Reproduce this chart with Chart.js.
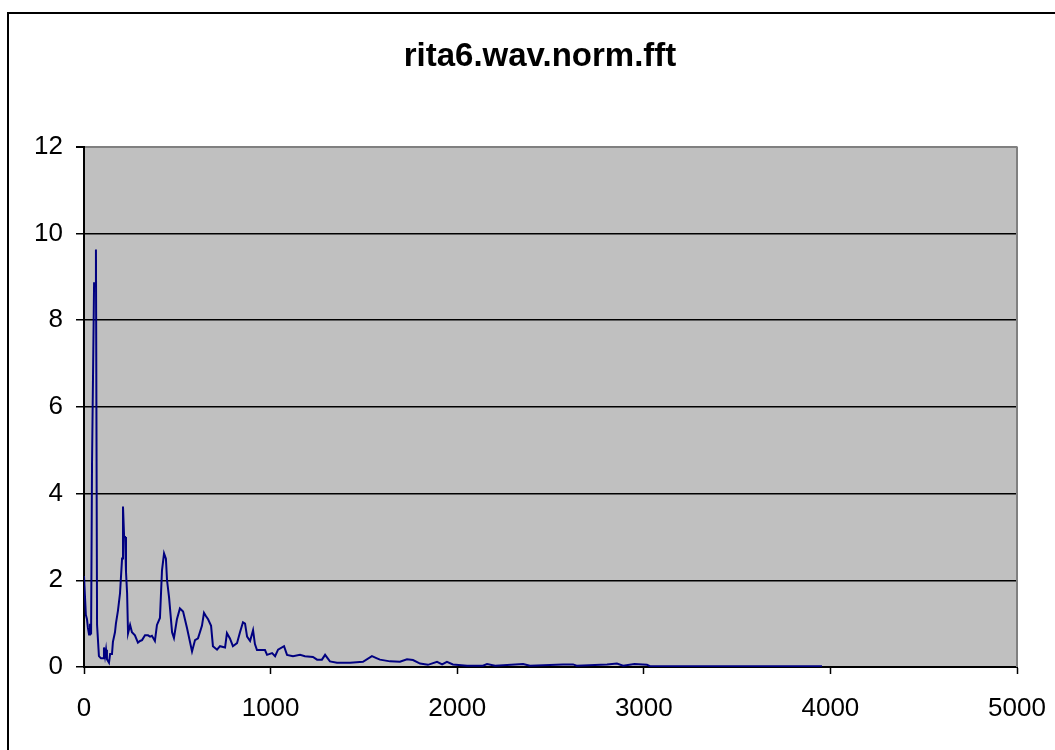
<!DOCTYPE html>
<html>
<head>
<meta charset="utf-8">
<title>rita6.wav.norm.fft</title>
<script src="https://cdn.jsdelivr.net/npm/chart.js"></script>
<style>
  html, body { margin: 0; padding: 0; width: 1055px; height: 750px; overflow: hidden; background: #fff; }
  #frame { position: absolute; left: 7px; top: 12px; width: 1100px; height: 800px; border: 2px solid #000; }
  #container { position: absolute; left: 0; top: 0; width: 1055px; height: 750px; }
</style>
</head>
<body>
<div id="frame"></div>
<div id="container"><canvas id="fftChart"></canvas></div>
<script>
const chartTitle = 'rita6.wav.norm.fft';

// frequency (x) and magnitude (y)
const freq = [0, 5, 10, 16, 21, 27, 32, 38, 43, 48, 54, 59, 64, 70, 75, 80, 91, 102, 107, 113,
  118, 123, 134, 140, 150, 155, 166, 171, 182, 193, 204, 209, 215, 220, 225, 231, 236, 247, 257, 273,
  289, 300, 311, 327, 343, 354, 364, 380, 391, 407, 418, 429, 439, 445, 456, 472, 482, 498, 514, 531,
  552, 579, 595, 611, 632, 643, 654, 665, 681, 691, 713, 729, 756, 766, 782, 798, 820, 836, 852, 863,
  874, 890, 906, 916, 927, 970, 981, 1008, 1024, 1040, 1072, 1088, 1120, 1158, 1184, 1227, 1249, 1275, 1292, 1318,
  1356, 1426, 1495, 1543, 1570, 1586, 1640, 1693, 1731, 1763, 1801, 1843, 1892, 1919, 1945, 1977, 2053, 2138, 2160, 2203,
  2353, 2390, 2567, 2621, 2640, 2803, 2856, 2889, 2950, 3017, 3033, 3500, 3955];
const mag = [2.1, 2.1, 1.2, 1.1, 0.9, 0.75, 1.0, 0.75, 4.7, 4.7, 8.85, 8.85, 9.63, 0.97, 0.97, 0.25, 0.2, 0.2, 0.45, 0.25,
  0.4, 0.18, 0.1, 0.3, 0.3, 0.58, 0.8, 1.0, 1.3, 1.7, 2.5, 3.7, 3.0, 3.0, 2.2, 1.7, 0.78, 0.97, 0.8, 0.73,
  0.56, 0.6, 0.62, 0.73, 0.73, 0.7, 0.72, 0.6, 0.97, 1.13, 2.23, 2.62, 2.5, 2.0, 1.6, 0.8, 0.67, 1.1, 1.35, 1.28,
  0.9, 0.36, 0.62, 0.66, 0.95, 1.25, 1.17, 1.1, 0.95, 0.48, 0.4, 0.48, 0.45, 0.78, 0.66, 0.48, 0.55, 0.8, 1.03, 1.0,
  0.7, 0.6, 0.85, 0.53, 0.39, 0.39, 0.28, 0.32, 0.25, 0.4, 0.48, 0.28, 0.25, 0.28, 0.25, 0.23, 0.17, 0.17, 0.28, 0.13,
  0.1, 0.1, 0.12, 0.25, 0.2, 0.17, 0.13, 0.12, 0.18, 0.16, 0.08, 0.05, 0.12, 0.06, 0.12, 0.06, 0.03, 0.03, 0.07, 0.03,
  0.07, 0.03, 0.06, 0.06, 0.03, 0.06, 0.08, 0.03, 0.07, 0.05, 0.02, 0.02, 0.02];

const xMin = 0, xMax = 5000, xStep = 1000;
const yMin = 0, yMax = 12, yStep = 2;

const points = freq.map((f, i) => ({ x: f, y: mag[i] }));

const font = 'Liberation Sans, Arial, sans-serif';

// grey plot area and its grey right edge
const plotArea = {
  id: 'plotArea',
  beforeDraw(chart) {
    const a = chart.chartArea, c = chart.ctx;
    c.save();
    c.fillStyle = '#c0c0c0';
    c.fillRect(a.left, a.top, a.right - a.left, a.bottom - a.top);
    c.restore();
  },
  afterDraw(chart) {
    const a = chart.chartArea, c = chart.ctx;
    c.save();
    c.strokeStyle = '#808080';
    c.lineWidth = 2;
    c.beginPath();
    c.moveTo(a.right, a.top);
    c.lineTo(a.right, a.bottom);
    c.stroke();
    c.restore();
  }
};

new Chart(document.getElementById('fftChart'), {
  type: 'line',
  data: {
    datasets: [{
      data: points,
      borderColor: '#000080',
      borderWidth: 2,
      pointRadius: 0,
      tension: 0,
      fill: false
    }]
  },
  options: {
    responsive: true,
    maintainAspectRatio: false,
    animation: false,
    // left padding keeps the title centred where the reference has it
    layout: { padding: { left: 25, right: 0, top: 0, bottom: 0 } },
    plugins: {
      legend: { display: false },
      tooltip: { enabled: false },
      title: {
        display: true,
        text: chartTitle,
        color: '#000',
        font: { family: font, size: 33, weight: 'bold' },
        padding: { top: 37, bottom: 70 }
      }
    },
    scales: {
      x: {
        type: 'linear',
        min: xMin,
        max: xMax,
        afterFit(scale) {
          scale.height = 83;
          scale.paddingLeft = 0;
          scale.paddingRight = 38;
        },
        ticks: {
          stepSize: xStep,
          color: '#000',
          padding: 19,
          maxRotation: 0,
          font: { family: font, size: 26 },
          callback: v => String(v)
        },
        grid: { drawOnChartArea: false, drawTicks: true, tickLength: 7, tickColor: '#000', tickWidth: 1.5 },
        border: { color: '#000', width: 2 }
      },
      y: {
        min: yMin,
        max: yMax,
        afterFit(scale) { scale.width = 59; },
        ticks: { stepSize: yStep, color: '#000', padding: 13, font: { family: font, size: 26 } },
        grid: {
          color: ctx => ctx.tick && ctx.tick.value === yMax ? '#808080' : '#000',
          lineWidth: ctx => ctx.tick && ctx.tick.value === yMax ? 2 : 1.5,
          tickColor: '#000',
          tickLength: 8
        },
        border: { color: '#000', width: 2 }
      }
    }
  },
  plugins: [plotArea]
});
</script>
</body>
</html>
